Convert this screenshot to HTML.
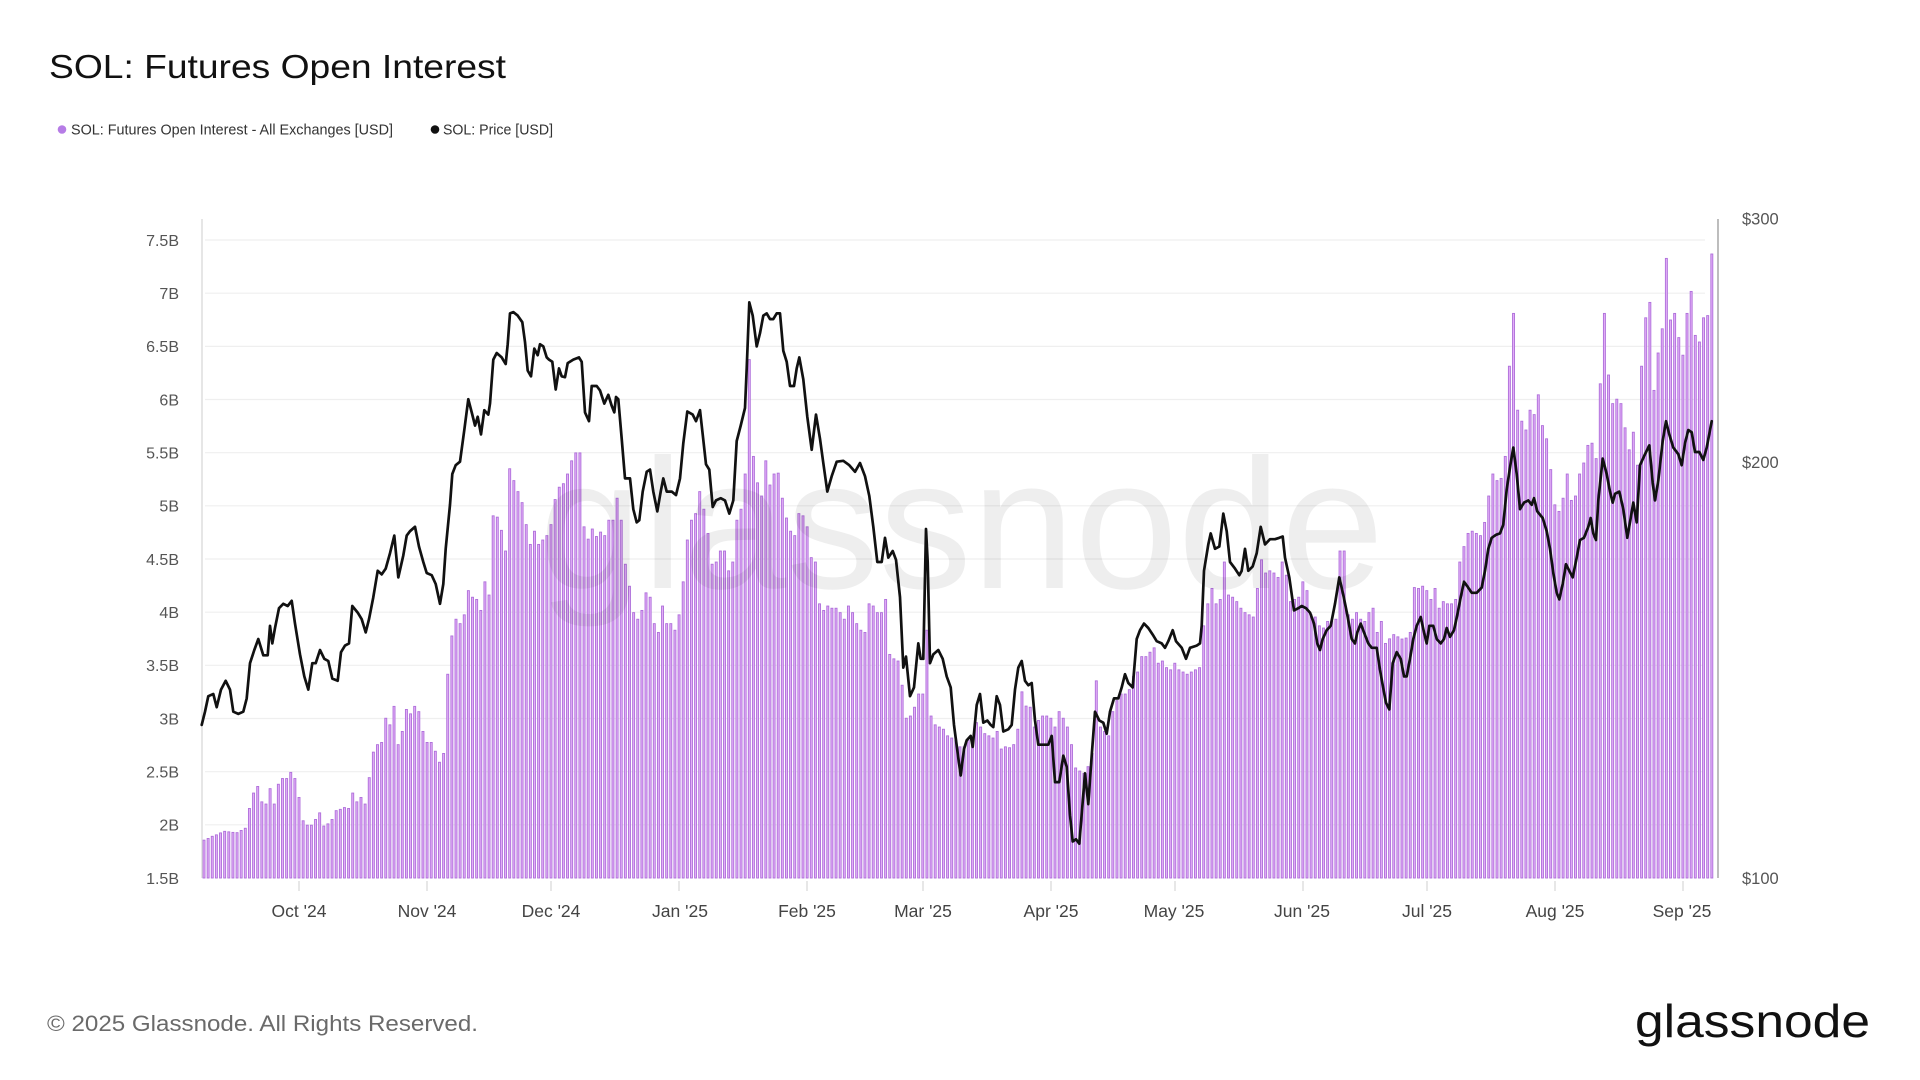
<!DOCTYPE html>
<html><head><meta charset="utf-8">
<style>
html,body{margin:0;padding:0;background:#fff;width:1920px;height:1080px;overflow:hidden}
svg{display:block}
</style></head>
<body>
<svg id="c" width="1920" height="1080" viewBox="0 0 1920 1080" xmlns="http://www.w3.org/2000/svg" font-family="'Liberation Sans', Arial, sans-serif">
<rect x="0" y="0" width="1920" height="1080" fill="#fff"/>
<!-- Title -->
<text x="49" y="78" font-size="33" fill="#111" textLength="457" lengthAdjust="spacingAndGlyphs">SOL: Futures Open Interest</text>
<!-- Legend -->
<circle cx="62" cy="129.5" r="4.3" fill="#b67ce6"/>
<text x="71" y="134.5" font-size="14.5" fill="#333" textLength="322" lengthAdjust="spacingAndGlyphs">SOL: Futures Open Interest - All Exchanges [USD]</text>
<circle cx="435" cy="129.5" r="4.3" fill="#111"/>
<text x="443" y="134.5" font-size="14.5" fill="#333" textLength="110" lengthAdjust="spacingAndGlyphs">SOL: Price [USD]</text>

<!-- gridlines -->
<g stroke="#efefef" stroke-width="1.2">
<line x1="205" x2="1705" y1="240" y2="240"/>
<line x1="205" x2="1705" y1="293.2" y2="293.2"/>
<line x1="205" x2="1705" y1="346.4" y2="346.4"/>
<line x1="205" x2="1705" y1="399.5" y2="399.5"/>
<line x1="205" x2="1705" y1="452.7" y2="452.7"/>
<line x1="205" x2="1705" y1="505.8" y2="505.8"/>
<line x1="205" x2="1705" y1="559" y2="559"/>
<line x1="205" x2="1705" y1="612.2" y2="612.2"/>
<line x1="205" x2="1705" y1="665.3" y2="665.3"/>
<line x1="205" x2="1705" y1="718.5" y2="718.5"/>
<line x1="205" x2="1705" y1="771.7" y2="771.7"/>
<line x1="205" x2="1705" y1="824.8" y2="824.8"/>
</g>

<!-- left labels -->
<g font-size="16" fill="#555" text-anchor="end">
<text x="179" y="245.8">7.5B</text>
<text x="179" y="299">7B</text>
<text x="179" y="352.2">6.5B</text>
<text x="179" y="405.3">6B</text>
<text x="179" y="458.5">5.5B</text>
<text x="179" y="511.6">5B</text>
<text x="179" y="564.8">4.5B</text>
<text x="179" y="618">4B</text>
<text x="179" y="671.1">3.5B</text>
<text x="179" y="724.3">3B</text>
<text x="179" y="777.5">2.5B</text>
<text x="179" y="830.6">2B</text>
<text x="179" y="883.8">1.5B</text>
</g>

<!-- right labels -->
<g font-size="16.5" fill="#555">
<text x="1742" y="224.5">$300</text>
<text x="1742" y="467.8">$200</text>
<text x="1742" y="884">$100</text>
</g>

<g id="bars"></g>

<!-- watermark -->
<text x="539" y="588" font-size="185" fill="#000" fill-opacity="0.065" textLength="845" lengthAdjust="spacingAndGlyphs">glassnode</text>

<!-- axes -->
<line x1="202" x2="202" y1="219" y2="878" stroke="#d6d6d6" stroke-width="1.2"/>
<line x1="1718" x2="1718" y1="219" y2="878" stroke="#9a9a9a" stroke-width="1.3"/>

<!-- x ticks -->
<g stroke="#cfcfcf" stroke-width="1">
<line x1="299" x2="299" y1="881" y2="891"/>
<line x1="427" x2="427" y1="881" y2="891"/>
<line x1="551" x2="551" y1="881" y2="891"/>
<line x1="679" x2="679" y1="881" y2="891"/>
<line x1="807" x2="807" y1="881" y2="891"/>
<line x1="923" x2="923" y1="881" y2="891"/>
<line x1="1051" x2="1051" y1="881" y2="891"/>
<line x1="1175" x2="1175" y1="881" y2="891"/>
<line x1="1303" x2="1303" y1="881" y2="891"/>
<line x1="1427" x2="1427" y1="881" y2="891"/>
<line x1="1555" x2="1555" y1="881" y2="891"/>
<line x1="1683" x2="1683" y1="881" y2="891"/>
</g>
<g font-size="17.5" fill="#444" text-anchor="middle">
<text x="299" y="917">Oct '24</text>
<text x="427" y="917">Nov '24</text>
<text x="551" y="917">Dec '24</text>
<text x="680" y="917">Jan '25</text>
<text x="807" y="917">Feb '25</text>
<text x="923" y="917">Mar '25</text>
<text x="1051" y="917">Apr '25</text>
<text x="1174" y="917">May '25</text>
<text x="1302" y="917">Jun '25</text>
<text x="1427" y="917">Jul '25</text>
<text x="1555" y="917">Aug '25</text>
<text x="1682" y="917">Sep '25</text>
</g>

<polyline id="price" fill="none" stroke="#111" stroke-width="2.7" stroke-linejoin="round" stroke-linecap="round" points=""/>

<!-- footer -->
<text x="47" y="1031" font-size="22" fill="#6a6a6a" textLength="431" lengthAdjust="spacingAndGlyphs">© 2025 Glassnode. All Rights Reserved.</text>
<text x="1635" y="1037" font-size="46" fill="#111" textLength="235" lengthAdjust="spacingAndGlyphs">glassnode</text>
</svg>

<script>
(function(){
var P3=[[20,1170],[30,1140],[40,1105],[55,1100],[65,1130],[78,1090],[92,1070],[105,1090],[115,1140],[130,1145],[145,1140],[155,1110],[165,1030],[178,1000],[190,975],[205,1012],[218,1012],[225,945],[232,985],[240,950],[252,905],[265,895],[278,900],[290,888],[300,940],[315,1010],[328,1060],[340,1090],[352,1030],[362,1030],[375,1000],[388,1020],[400,1025],[412,1065],[428,1070],[438,1005],[450,990],[462,985],[472,900],[488,915],[500,930],[512,960],[522,930],[535,880],[548,820],[560,828],[572,815],[585,780],[598,740],[610,835],[625,785],[635,740],[645,730],[660,720],[672,765],[685,800],[695,825],[710,830],[722,850],[735,895],[745,850],[752,770],[765,670],[772,600],[782,580],[795,572],[808,500],[820,430],[832,465],[840,490],[848,470],[858,510],[868,455],[880,465],[885,440],[895,340],[905,325],[920,335],[932,350],[938,305],[945,235],[955,232],[968,240],[982,255],[990,300],[998,365],[1008,378],[1018,315],[1028,330],[1035,305],[1045,310],[1055,335],[1062,340],[1072,345],[1082,408],[1092,360],[1100,378],[1110,380],[1118,348],[1135,340],[1152,335],[1160,345],[1170,460],[1182,480],[1190,400],[1205,400],[1215,410],[1228,440],[1240,420],[1250,445],[1258,460]];
var P4=[[0,410],[10,425],[25,420],[32,435],[40,460],[48,425],[55,430],[65,520],[75,610],[90,610],[100,680],[110,710],[118,705],[128,640],[140,595],[150,590],[160,640],[172,685],[182,640],[190,610],[200,640],[215,640],[228,648],[240,610],[250,530],[262,458],[278,465],[288,480],[300,455],[308,510],[318,578],[328,590],[338,675],[348,660],[362,655],[375,660],[388,690],[400,660],[410,525],[422,490],[435,450],[440,360],[448,210],[458,240],[470,310],[480,280],[490,240],[500,235],[510,248],[520,248],[530,235],[540,235],[550,320],[560,345],[570,400],[582,400],[590,360],[598,335],[610,385],[622,470],[635,545],[648,465],[660,520],[670,575],[682,640],[695,605],[710,572],[730,570],[748,580],[765,595],[780,575],[795,605],[808,650],[820,720],[832,800],[845,800],[855,745],[865,790],[878,775],[888,795],[900,880],[910,1040],[918,1015],[930,1105],[942,1085],[955,985],[962,1020],[970,1020],[978,725],[983,800],[990,1030],[1000,1010],[1015,1000],[1028,1020],[1040,1060],[1052,1085],[1062,1170],[1075,1245],[1082,1285],[1092,1225],[1100,1205],[1112,1195],[1118,1220],[1130,1125],[1140,1100],[1150,1165],[1162,1160],[1172,1170],[1180,1175],[1190,1105],[1200,1185],[1215,1180],[1228,1175],[1240,1125],[1250,1060],[1260,1030]];
var P5=[[0,1125],[10,1185],[25,1180],[35,1170],[45,1090],[55,1040],[65,1025],[75,1070],[85,1080],[95,1075],[105,1160],[115,1215],[130,1215],[145,1215],[155,1195],[165,1300],[178,1300],[190,1240],[200,1265],[210,1375],[218,1435],[228,1430],[238,1440],[248,1345],[255,1280],[265,1350],[275,1240],[285,1140],[298,1160],[310,1165],[320,1190],[330,1140],[342,1110],[355,1110],[365,1085],[375,1055],[385,1075],[398,1085],[410,975],[420,955],[432,940],[445,950],[458,965],[470,980],[485,985],[495,995],[505,980],[518,955],[528,980],[545,995],[558,1020],[570,995],[590,990],[600,985],[605,945],[612,820],[625,760],[632,735],[645,770],[658,765],[670,690],[680,730],[690,800],[705,815],[718,830],[725,820],[735,770],[745,820],[758,810],[770,780],[782,720],[795,760],[810,748],[825,748],[838,745],[848,742],[855,790],[868,835],[882,910],[895,905],[905,900],[918,905],[930,915],[942,940],[952,985],[960,1000],[968,975],[980,955],[992,945],[1005,895],[1018,835],[1030,875],[1042,920],[1055,975],[1065,985],[1072,960],[1082,940],[1092,960],[1105,985],[1115,995],[1130,995],[1145,1060],[1155,1110],[1165,1140],[1175,1060],[1185,1010],[1195,1015],[1205,1040],[1215,1065],[1225,1030],[1235,960],[1248,935],[1260,930]];
var P6=[[0,1045],[8,1080],[18,1120],[28,1135],[38,1030],[50,1005],[62,1020],[72,1060],[80,1060],[90,1020],[100,975],[110,945],[122,925],[132,960],[140,985],[148,945],[160,945],[170,975],[182,985],[192,975],[200,950],[210,970],[222,955],[232,920],[242,880],[252,845],[262,855],[275,870],[290,870],[305,858],[315,820],[325,770],[335,745],[348,738],[360,735],[370,715],[380,635],[392,575],[400,540],[410,600],[420,680],[432,665],[445,660],[455,670],[462,655],[472,685],[488,700],[500,730],[510,770],[520,825],[530,870],[538,885],[548,850],[558,805],[568,820],[578,835],[590,790],[600,750],[612,745],[625,720],[632,700],[640,735],[648,750],[655,660],[668,565],[680,600],[690,640],[698,665],[705,645],[718,640],[730,680],[742,745],[752,700],[760,665],[770,710],[780,580],[795,555],[808,535],[818,620],[825,660],[835,615],[848,525],[858,480],[868,510],[880,540],[895,555],[905,580],[915,530],[925,500],[935,505],[945,550],[958,550],[970,568],[980,540],[995,480]];

var B3=[[30,1432],[60,1420],[90,1412],[120,1415],[140,1410],[150,1405],[165,1360],[178,1325],[190,1310],[200,1345],[215,1350],[228,1315],[240,1350],[252,1305],[265,1292],[278,1292],[290,1278],[302,1292],[315,1335],[328,1388],[340,1398],[352,1398],[365,1385],[377,1370],[390,1400],[402,1395],[415,1385],[428,1365],[440,1362],[452,1358],[465,1360],[478,1325],[490,1345],[502,1335],[515,1350],[528,1290],[540,1232],[552,1215],[565,1210],[578,1155],[590,1170],[598,1128],[610,1215],[622,1185],[635,1135],[647,1145],[660,1128],[672,1140],[685,1185],[697,1210],[710,1210],[722,1230],[735,1255],[747,1235],[758,1055],[770,968],[782,930],[795,940],[808,920],[820,865],[832,880],[845,885],[858,910],[870,845],[882,875],[895,695],[908,698],[920,728],[932,775],[945,588],[958,615],[970,640],[982,665],[995,715],[1008,760],[1020,730],[1033,760],[1045,750],[1058,740],[1070,715],[1082,658],[1095,630],[1108,622],[1120,600],[1132,570],[1145,552],[1158,552],[1170,720],[1182,748],[1195,725],[1208,742],[1220,732],[1232,740],[1245,705],[1258,705]];
var B4=[[0,730],[12,735],[25,705],[38,705],[50,655],[60,705],[72,805],[88,855],[100,915],[110,930],[122,910],[135,870],[148,880],[158,940],[170,960],[185,900],[198,940],[210,940],[222,955],[235,920],[248,845],[262,750],[275,705],[288,690],[300,640],[310,680],[320,735],[332,805],[345,800],[358,775],[372,775],[385,820],[398,800],[410,705],[420,680],[435,600],[448,340],[460,560],[472,620],[485,650],[498,570],[510,625],[522,600],[535,598],[548,655],[560,700],[572,730],[585,740],[598,690],[610,695],[622,720],[635,790],[648,800],[660,895],[672,910],[685,900],[698,905],[710,905],[722,915],[735,930],[748,900],[760,915],[772,940],[785,955],[797,960],[810,895],[822,900],[835,915],[848,915],[858,885],[870,1010],[882,1020],[895,1025],[905,1080],[918,1155],[930,1150],[942,1130],[955,1100],[968,1100],[980,955],[990,1150],[1003,1170],[1015,1175],[1028,1180],[1040,1195],[1052,1200],[1065,1205],[1078,1220],[1090,1220],[1103,1205],[1115,1200],[1128,1165],[1140,1175],[1152,1190],[1165,1195],[1178,1200],[1190,1185],[1203,1215],[1215,1210],[1228,1215],[1240,1195],[1252,1170]];
var B5=[[0,1225],[12,1220],[25,1222],[38,1215],[50,1180],[60,1095],[72,1125],[85,1130],[97,1175],[110,1160],[122,1150],[135,1150],[148,1155],[160,1175],[172,1140],[185,1155],[198,1175],[210,1215],[222,1268],[235,1275],[248,1280],[262,1265],[275,1235],[290,1070],[302,1175],[315,1185],[328,1195],[340,1140],[352,1115],[365,1100],[378,1100],[390,1090],[402,1060],[415,1050],[428,1015],[440,1015],[452,1005],[462,995],[475,1030],[485,1025],[498,1040],[510,1045],[520,1030],[532,1045],[545,1050],[558,1055],[570,1050],[582,1045],[595,1040],[608,945],[620,895],[632,860],[645,895],[658,885],[670,800],[680,875],[692,880],[705,890],[718,905],[730,915],[742,920],[755,925],[768,860],[780,795],[792,825],[805,820],[818,825],[830,835],[842,800],[855,830],[868,890],[880,885],[892,880],[905,845],[918,865],[930,920],[942,925],[955,945],[968,950],[980,935],[992,935],[1005,930],[1018,775],[1030,775],[1042,920],[1055,930],[1068,915],[1080,930],[1092,935],[1105,915],[1118,905],[1130,960],[1142,875],[1155,985],[1168,985],[1180,965],[1192,968],[1205,975],[1218,985],[1230,930],[1242,860],[1255,860]];
var B6=[[0,935],[10,985],[22,985],[35,965],[48,970],[60,975],[72,985],[85,960],[100,858],[112,860],[125,855],[138,865],[150,885],[160,860],[172,905],[185,890],[198,895],[210,895],[222,885],[235,800],[248,765],[260,735],[272,730],[285,735],[298,740],[310,710],[322,650],[335,600],[348,615],[360,610],[372,560],[385,355],[398,235],[410,455],[422,480],[435,500],[448,455],[460,465],[472,420],[485,490],[498,520],[510,590],[522,670],[535,685],[548,655],[558,600],[570,660],[582,650],[595,600],[610,575],[622,535],[635,530],[648,565],[660,395],[670,235],[682,375],[695,440],[708,430],[720,440],[732,495],[745,545],[758,505],[768,580],[780,355],[795,245],[808,210],[820,410],[832,325],[845,270],[855,110],[868,250],[880,235],[892,290],[905,330],[918,235],[930,185],[942,285],[955,300],[968,245],[980,240],[995,100]];

function conv(a,x0){return a.map(function(p){return [x0+p[0]/3,210+p[1]/2.2725];});}
function combine(a3,a4,a5,a6){
  var r=[];
  conv(a3,195).forEach(function(p){if(p[0]<615)r.push(p);});
  conv(a4,600).forEach(function(p){if(p[0]>=615&&p[0]<1000)r.push(p);});
  conv(a5,1000).forEach(function(p){if(p[0]>=1000&&p[0]<1380)r.push(p);});
  conv(a6,1380).forEach(function(p){if(p[0]>=1380)r.push(p);});
  r.sort(function(a,b){return a[0]-b[0];});
  return r;
}
var price=combine(P3,P4,P5,P6);
var keys=combine(B3,B4,B5,B6);
function interp(k,x){
  if(x<=k[0][0])return k[0][1];
  for(var i=1;i<k.length;i++){
    if(x<=k[i][0]){var a=k[i-1],b=k[i];var t=(x-a[0])/((b[0]-a[0])||1);return a[1]+t*(b[1]-a[1]);}
  }
  return k[k.length-1][1];
}
var N=366, vals=[], dist=[];
for(var i=0;i<N;i++){var x=204+4.131*i;vals.push(interp(keys,x));dist.push(99);}
keys.forEach(function(k){
  var j=Math.round((k[0]-204)/4.131);
  if(j<0||j>=N)return;
  var d=Math.abs(204+4.131*j-k[0]);
  if(d<dist[j]){dist[j]=d;vals[j]=k[1];}
});
var g=document.getElementById("bars");
var html="";
for(var i=0;i<N;i++){
  var x=204+4.131*i;
  var y=vals[i];
  if(y>877)y=877;
  html+='<rect x="'+(x-1.0).toFixed(2)+'" y="'+y.toFixed(2)+'" width="2.0" height="'+(878-y).toFixed(2)+'"/>';
}
g.setAttribute("fill","#e3adf8");
g.setAttribute("stroke","#ae6fda");
g.setAttribute("stroke-width","0.9");
g.innerHTML=html;
document.getElementById("price").setAttribute("points",price.map(function(p){return p[0].toFixed(1)+","+p[1].toFixed(1);}).join(" "));
})();
</script>
</body></html>
